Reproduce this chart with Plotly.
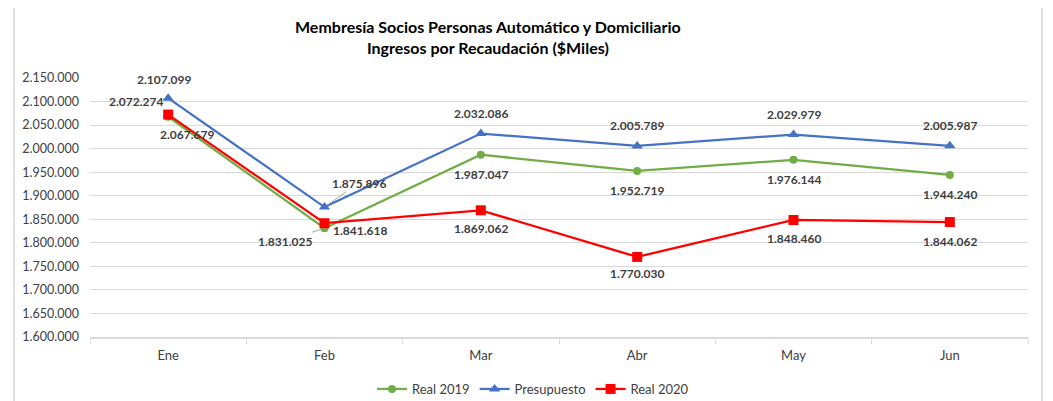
import plotly.graph_objects as go

# data
months = ["Ene", "Feb", "Mar", "Abr", "May", "Jun"]
real_2019 = [2067679, 1831025, 1987047, 1952719, 1976144, 1944240]
presupuesto = [2107099, 1875896, 2032086, 2005789, 2029979, 2005987]
real_2020 = [2072274, 1841618, 1869062, 1770030, 1848460, 1844062]

GREEN = "#70AD47"
BLUE = "#4472C4"
RED = "#FF0000"
GRID = "#D9D9D9"
LABEL = "#404040"
FONT = "Lato"

# label offsets in px (dx, dy down), Excel-style placement
offs_2019 = [(19, 18), (-40, 13), (0, 20), (0, 20), (0, 20), (0, 20)]
offs_pres = [(-4, -19), (34, -24), (0, -20), (0, -20), (0, -20), (0, -20)]
offs_2020 = [(-32, -13), (35, 7), (0, 18), (0, 17), (0, 18), (0, 19)]
leader = {("2019", 1), ("pres", 1)}


def fmt(v):
    return f"{v:,}".replace(",", ".")


fig = go.Figure()
series = [
    ("Real 2019", real_2019, GREEN, "circle", 8, "2019", offs_2019),
    ("Presupuesto", presupuesto, BLUE, "triangle-up", 10, "pres", offs_pres),
    ("Real 2020", real_2020, RED, "square", 10, "2020", offs_2020),
]
annots = []
for name, vals, col, sym, size, key, offs in series:
    fig.add_trace(go.Scatter(x=months, y=vals, name=name, mode="lines+markers",
        line=dict(color=col, width=2.25),
        marker=dict(symbol=sym, size=size, color=col)))
    for i, (m, v) in enumerate(zip(months, vals)):
        dx, dy = offs[i]
        a = dict(x=m, y=v, xref="x", yref="y", text=fmt(v),
                 font=dict(family=FONT, size=12, color=LABEL, weight="bold"))
        if (key, i) in leader:
            a.update(showarrow=True, ax=dx, ay=dy, arrowhead=0,
                     arrowcolor="#A6A6A6", arrowwidth=1, standoff=3)
        else:
            a.update(showarrow=False, xshift=dx, yshift=-dy)
        annots.append(a)

# title
annots.append(dict(x=(488 - 90) / 938, y=(337 - 37) / 259, xref="paper", yref="paper",
    text="<b>Membresía Socios Personas Automático y Domiciliario<br>Ingresos por Recaudación ($Miles)</b>",
    showarrow=False, font=dict(family=FONT, size=16, color="#000000"),
    xanchor="center", yanchor="middle"))

# page body has an 8px margin, so the figure is 8px smaller than the window
fig.update_layout(
    width=1045, height=393,
    paper_bgcolor="white", plot_bgcolor="white",
    font=dict(family=FONT, color="#595959", size=12),
    separators=",.",
    margin=dict(l=82, r=25, t=70, b=64, autoexpand=False),
    annotations=annots,
    showlegend=True,
    legend=dict(orientation="h", x=(533 - 90) / 938, xanchor="center",
                y=-(389 - 337) / 259, yanchor="middle",
                font=dict(family=FONT, size=13, color="#404040"),
                itemwidth=30, tracegroupgap=0),
    xaxis=dict(type="category", range=[-0.5, 5.5], showgrid=False, automargin=False,
               tickson="boundaries", ticks="outside", ticklen=5, tickcolor=GRID,
               showline=True, linecolor=GRID, linewidth=1.5, ticklabelstandoff=6,
               tickfont=dict(size=13, color="#404040")),
    yaxis=dict(range=[1600000, 2150000], dtick=50000, tickformat=",.0f",
               showgrid=True, gridcolor=GRID, gridwidth=1, zeroline=False,
               showline=False, ticklabelstandoff=10, automargin=False,
               tickfont=dict(size=12.5, color="#404040")),
    shapes=[dict(type="rect", xref="paper", yref="paper",
                 x0=(14 - 90) / 938, x1=(1042 - 90) / 938,
                 y0=-0.6, y1=(337 - 4) / 259,
                 line=dict(color=GRID, width=1.5), layer="below")],
)

fig.write_html("out.html")
